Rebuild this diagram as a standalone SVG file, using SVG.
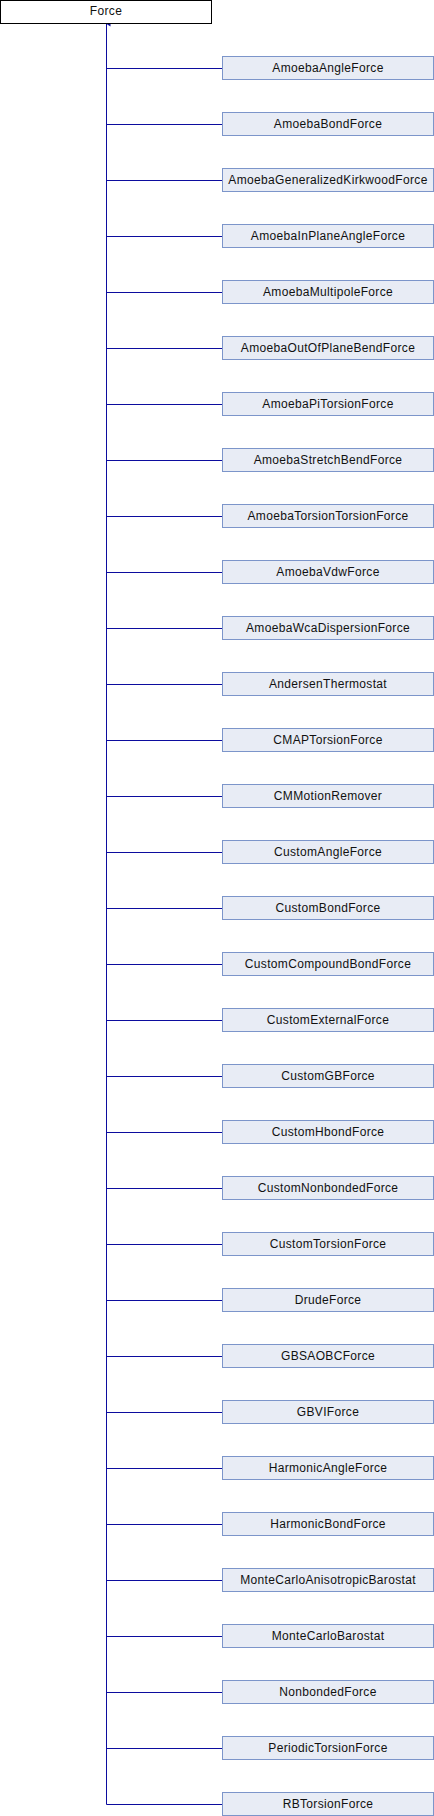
<svg xmlns="http://www.w3.org/2000/svg" width="434" height="1816" viewBox="0 0 434 1816">
<style>
.bg{fill:#ffffff}
.base rect{fill:#ffffff;stroke:#000000;stroke-width:1}
.node rect{fill:#e8ecf5;stroke:#7c95ca;stroke-width:1}
text{font-family:"Liberation Sans",Arial,sans-serif;font-size:12px;letter-spacing:0.33px;text-anchor:middle;fill:#111111}
.edges path{fill:none;stroke:#0c0c9e;stroke-width:1}
</style>
<defs>
<marker id="arr" markerWidth="6" markerHeight="6" refX="3" refY="0.5" orient="auto" markerUnits="userSpaceOnUse"><path d="M3,0.5 L5.5,4.5 L0.5,4.5 Z" fill="#0c0c9e"/></marker>
</defs>
<rect class="bg" x="0" y="0" width="434" height="1816"/>
<g class="edges">
<path d="M106.5,1804.5 L106.5,24" marker-end="url(#arr)"/>
<path d="M106.5,68.5 H222.5 M106.5,124.5 H222.5 M106.5,180.5 H222.5 M106.5,236.5 H222.5 M106.5,292.5 H222.5 M106.5,348.5 H222.5 M106.5,404.5 H222.5 M106.5,460.5 H222.5 M106.5,516.5 H222.5 M106.5,572.5 H222.5 M106.5,628.5 H222.5 M106.5,684.5 H222.5 M106.5,740.5 H222.5 M106.5,796.5 H222.5 M106.5,852.5 H222.5 M106.5,908.5 H222.5 M106.5,964.5 H222.5 M106.5,1020.5 H222.5 M106.5,1076.5 H222.5 M106.5,1132.5 H222.5 M106.5,1188.5 H222.5 M106.5,1244.5 H222.5 M106.5,1300.5 H222.5 M106.5,1356.5 H222.5 M106.5,1412.5 H222.5 M106.5,1468.5 H222.5 M106.5,1524.5 H222.5 M106.5,1580.5 H222.5 M106.5,1636.5 H222.5 M106.5,1692.5 H222.5 M106.5,1748.5 H222.5 M106.5,1804.5 H222.5"/>
</g>
<g id="Force" class="base"><rect x="0.5" y="0.5" width="211" height="23"/><text x="106" y="15">Force</text></g>
<g id="AmoebaAngleForce" class="node"><rect x="222.5" y="56.5" width="211" height="23"/><text x="328" y="71.5">AmoebaAngleForce</text></g>
<g id="AmoebaBondForce" class="node"><rect x="222.5" y="112.5" width="211" height="23"/><text x="328" y="127.5">AmoebaBondForce</text></g>
<g id="AmoebaGeneralizedKirkwoodForce" class="node"><rect x="222.5" y="168.5" width="211" height="23"/><text x="328" y="183.5">AmoebaGeneralizedKirkwoodForce</text></g>
<g id="AmoebaInPlaneAngleForce" class="node"><rect x="222.5" y="224.5" width="211" height="23"/><text x="328" y="239.5">AmoebaInPlaneAngleForce</text></g>
<g id="AmoebaMultipoleForce" class="node"><rect x="222.5" y="280.5" width="211" height="23"/><text x="328" y="295.5">AmoebaMultipoleForce</text></g>
<g id="AmoebaOutOfPlaneBendForce" class="node"><rect x="222.5" y="336.5" width="211" height="23"/><text x="328" y="351.5">AmoebaOutOfPlaneBendForce</text></g>
<g id="AmoebaPiTorsionForce" class="node"><rect x="222.5" y="392.5" width="211" height="23"/><text x="328" y="407.5">AmoebaPiTorsionForce</text></g>
<g id="AmoebaStretchBendForce" class="node"><rect x="222.5" y="448.5" width="211" height="23"/><text x="328" y="463.5">AmoebaStretchBendForce</text></g>
<g id="AmoebaTorsionTorsionForce" class="node"><rect x="222.5" y="504.5" width="211" height="23"/><text x="328" y="519.5">AmoebaTorsionTorsionForce</text></g>
<g id="AmoebaVdwForce" class="node"><rect x="222.5" y="560.5" width="211" height="23"/><text x="328" y="575.5">AmoebaVdwForce</text></g>
<g id="AmoebaWcaDispersionForce" class="node"><rect x="222.5" y="616.5" width="211" height="23"/><text x="328" y="631.5">AmoebaWcaDispersionForce</text></g>
<g id="AndersenThermostat" class="node"><rect x="222.5" y="672.5" width="211" height="23"/><text x="328" y="687.5">AndersenThermostat</text></g>
<g id="CMAPTorsionForce" class="node"><rect x="222.5" y="728.5" width="211" height="23"/><text x="328" y="743.5">CMAPTorsionForce</text></g>
<g id="CMMotionRemover" class="node"><rect x="222.5" y="784.5" width="211" height="23"/><text x="328" y="799.5">CMMotionRemover</text></g>
<g id="CustomAngleForce" class="node"><rect x="222.5" y="840.5" width="211" height="23"/><text x="328" y="855.5">CustomAngleForce</text></g>
<g id="CustomBondForce" class="node"><rect x="222.5" y="896.5" width="211" height="23"/><text x="328" y="911.5">CustomBondForce</text></g>
<g id="CustomCompoundBondForce" class="node"><rect x="222.5" y="952.5" width="211" height="23"/><text x="328" y="967.5">CustomCompoundBondForce</text></g>
<g id="CustomExternalForce" class="node"><rect x="222.5" y="1008.5" width="211" height="23"/><text x="328" y="1023.5">CustomExternalForce</text></g>
<g id="CustomGBForce" class="node"><rect x="222.5" y="1064.5" width="211" height="23"/><text x="328" y="1079.5">CustomGBForce</text></g>
<g id="CustomHbondForce" class="node"><rect x="222.5" y="1120.5" width="211" height="23"/><text x="328" y="1135.5">CustomHbondForce</text></g>
<g id="CustomNonbondedForce" class="node"><rect x="222.5" y="1176.5" width="211" height="23"/><text x="328" y="1191.5">CustomNonbondedForce</text></g>
<g id="CustomTorsionForce" class="node"><rect x="222.5" y="1232.5" width="211" height="23"/><text x="328" y="1247.5">CustomTorsionForce</text></g>
<g id="DrudeForce" class="node"><rect x="222.5" y="1288.5" width="211" height="23"/><text x="328" y="1303.5">DrudeForce</text></g>
<g id="GBSAOBCForce" class="node"><rect x="222.5" y="1344.5" width="211" height="23"/><text x="328" y="1359.5">GBSAOBCForce</text></g>
<g id="GBVIForce" class="node"><rect x="222.5" y="1400.5" width="211" height="23"/><text x="328" y="1415.5">GBVIForce</text></g>
<g id="HarmonicAngleForce" class="node"><rect x="222.5" y="1456.5" width="211" height="23"/><text x="328" y="1471.5">HarmonicAngleForce</text></g>
<g id="HarmonicBondForce" class="node"><rect x="222.5" y="1512.5" width="211" height="23"/><text x="328" y="1527.5">HarmonicBondForce</text></g>
<g id="MonteCarloAnisotropicBarostat" class="node"><rect x="222.5" y="1568.5" width="211" height="23"/><text x="328" y="1583.5">MonteCarloAnisotropicBarostat</text></g>
<g id="MonteCarloBarostat" class="node"><rect x="222.5" y="1624.5" width="211" height="23"/><text x="328" y="1639.5">MonteCarloBarostat</text></g>
<g id="NonbondedForce" class="node"><rect x="222.5" y="1680.5" width="211" height="23"/><text x="328" y="1695.5">NonbondedForce</text></g>
<g id="PeriodicTorsionForce" class="node"><rect x="222.5" y="1736.5" width="211" height="23"/><text x="328" y="1751.5">PeriodicTorsionForce</text></g>
<g id="RBTorsionForce" class="node"><rect x="222.5" y="1792.5" width="211" height="23"/><text x="328" y="1807.5">RBTorsionForce</text></g>
</svg>
